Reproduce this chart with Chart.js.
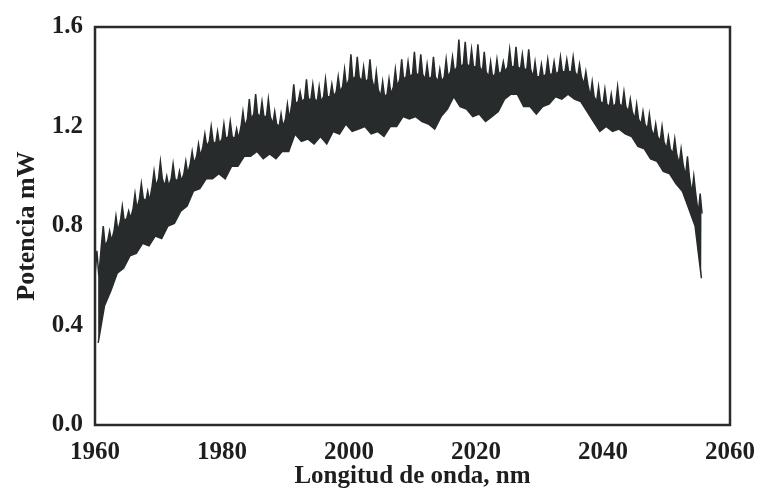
<!DOCTYPE html>
<html>
<head>
<meta charset="utf-8">
<script src="https://cdn.jsdelivr.net/npm/chart.js@4/dist/chart.umd.min.js"></script>
<style>
  html, body { margin: 0; padding: 0; background: #fff; }
  #wrap { width: 768px; height: 488px; }
</style>
</head>
<body>
<div id="wrap"><canvas id="chart"></canvas></div>
<script>
// wavelength grid (nm), one sample per fringe
const wavelengths = [
  1960, 1961, 1962, 1963, 1964, 1965, 1966, 1967, 1968, 1969,
  1970, 1971, 1972, 1973, 1974, 1975, 1976, 1977, 1978, 1979,
  1980, 1981, 1982, 1983, 1984, 1985, 1986, 1987, 1988, 1989,
  1990, 1991, 1992, 1993, 1994, 1995, 1996, 1997, 1998, 1999,
  2000, 2001, 2002, 2003, 2004, 2005, 2006, 2007, 2008, 2009,
  2010, 2011, 2012, 2013, 2014, 2015, 2016, 2017, 2018, 2019,
  2020, 2021, 2022, 2023, 2024, 2025, 2026, 2027, 2028, 2029,
  2030, 2031, 2032, 2033, 2034, 2035, 2036, 2037, 2038, 2039,
  2040, 2041, 2042, 2043, 2044, 2045, 2046, 2047, 2048, 2049,
  2050, 2051, 2052, 2053, 2054, 2055
];

// spike tips (mW)
const peakPower = [
  0.70, 0.80, 0.78, 0.84, 0.88, 0.86, 0.93, 0.97, 0.94, 1.02,
  1.06, 1.00, 1.05, 1.02, 1.06, 1.10, 1.13, 1.17, 1.20, 1.18,
  1.21, 1.22, 1.19, 1.26, 1.31, 1.33, 1.30, 1.31, 1.26, 1.25,
  1.29, 1.37, 1.34, 1.39, 1.37, 1.36, 1.39, 1.37, 1.40, 1.43,
  1.49, 1.48, 1.44, 1.47, 1.42, 1.38, 1.39, 1.43, 1.47, 1.46,
  1.50, 1.49, 1.45, 1.48, 1.43, 1.47, 1.48, 1.55, 1.54, 1.51,
  1.53, 1.50, 1.46, 1.47, 1.46, 1.51, 1.52, 1.49, 1.51, 1.46,
  1.45, 1.47, 1.46, 1.48, 1.47, 1.48, 1.45, 1.42, 1.38, 1.36,
  1.35, 1.33, 1.36, 1.34, 1.31, 1.29, 1.26, 1.25, 1.21, 1.20,
  1.16, 1.15, 1.11, 1.08, 1.00, 0.93
];

// top of the solid band (mW)
const ridgePower = [
  0.60, 0.72, 0.74, 0.78, 0.82, 0.83, 0.87, 0.91, 0.90, 0.96,
  0.99, 0.96, 0.99, 0.98, 1.01, 1.05, 1.08, 1.12, 1.14, 1.13,
  1.15, 1.16, 1.15, 1.20, 1.23, 1.25, 1.24, 1.24, 1.21, 1.20,
  1.23, 1.29, 1.30, 1.31, 1.31, 1.30, 1.32, 1.32, 1.34, 1.36,
  1.39, 1.40, 1.38, 1.39, 1.35, 1.32, 1.33, 1.36, 1.39, 1.40,
  1.41, 1.41, 1.39, 1.40, 1.38, 1.40, 1.42, 1.44, 1.45, 1.44,
  1.44, 1.42, 1.40, 1.41, 1.42, 1.44, 1.44, 1.43, 1.43, 1.40,
  1.40, 1.41, 1.41, 1.42, 1.42, 1.42, 1.40, 1.37, 1.32, 1.30,
  1.29, 1.28, 1.29, 1.28, 1.26, 1.23, 1.21, 1.19, 1.16, 1.14,
  1.11, 1.09, 1.05, 1.00, 0.93, 0.85
];

// fringe minima (mW)
const troughPower = [
  0.33, 0.48, 0.54, 0.61, 0.63, 0.68, 0.69, 0.73, 0.72, 0.76,
  0.75, 0.80, 0.81, 0.86, 0.88, 0.94, 0.95, 0.99, 0.99, 1.01,
  0.99, 1.04, 1.04, 1.08, 1.08, 1.10, 1.07, 1.09, 1.07, 1.10,
  1.10, 1.17, 1.14, 1.15, 1.13, 1.16, 1.13, 1.18, 1.17, 1.21,
  1.18, 1.19, 1.20, 1.17, 1.18, 1.16, 1.20, 1.20, 1.24, 1.23,
  1.24, 1.22, 1.21, 1.19, 1.24, 1.27, 1.32, 1.28, 1.27, 1.24,
  1.25, 1.22, 1.24, 1.26, 1.31, 1.33, 1.33, 1.28, 1.28, 1.25,
  1.28, 1.29, 1.32, 1.31, 1.33, 1.31, 1.30, 1.26, 1.22, 1.18,
  1.20, 1.18, 1.19, 1.17, 1.16, 1.12, 1.11, 1.07, 1.06, 1.02,
  1.01, 0.97, 0.94, 0.87, 0.80, 0.59
];

const xTicks = [1960, 1980, 2000, 2020, 2040, 2060];
const yTicks = [0.0, 0.4, 0.8, 1.2, 1.6];

const ink = '#272b2b';
const serif = '"Liberation Serif", "DejaVu Serif", serif';

// upper edge: one spike on top of the band in every fringe
const upper = [];
const lower = [];
wavelengths.forEach((w, i) => {
  upper.push({ x: w, y: ridgePower[i] });
  upper.push({ x: w + 0.3, y: peakPower[i] });
  upper.push({ x: w + 0.6, y: ridgePower[i] });
  lower.push({ x: w + 0.5, y: troughPower[i] });
});

// box around the plot area
const frame = {
  id: 'frame',
  afterDatasetsDraw(chart) {
    const { ctx, chartArea: a } = chart;
    ctx.save();
    ctx.strokeStyle = '#2b2b2b';
    ctx.lineWidth = 2.5;
    ctx.strokeRect(a.left, a.top, a.right - a.left, a.bottom - a.top);
    ctx.restore();
  }
};

new Chart(document.getElementById('chart'), {
  type: 'scatter',
  data: {
    datasets: [
      {
        label: 'minimos',
        data: lower,
        showLine: true,
        borderColor: ink,
        borderWidth: 1.5,
        pointRadius: 0,
        tension: 0,
        fill: false
      },
      {
        label: 'Potencia',
        data: upper,
        showLine: true,
        borderColor: ink,
        backgroundColor: ink,
        borderWidth: 1.5,
        pointRadius: 0,
        tension: 0,
        fill: '-1'
      }
    ]
  },
  options: {
    responsive: true,
    maintainAspectRatio: false,
    animation: false,
    layout: { padding: { top: 16, right: 25, left: 0, bottom: 0 } },
    plugins: { legend: { display: false }, tooltip: { enabled: false } },
    scales: {
      x: {
        type: 'linear',
        min: 1960,
        max: 2060,
        afterBuildTicks: (s) => { s.ticks = xTicks.map(v => ({ value: v })); },
        afterFit: (s) => { s.height = 63; },
        grid: { display: false, drawTicks: false },
        border: { display: false },
        ticks: {
          color: '#1e1e1e',
          padding: 13,
          maxRotation: 0,
          font: { family: serif, size: 25, weight: 'bold' },
          callback: (v) => String(v)
        },
        title: {
          display: true,
          text: 'Longitud de onda, nm',
          color: '#1e1e1e',
          padding: { top: 0, bottom: -4 },
          font: { family: serif, size: 25, weight: 'bold' }
        }
      },
      y: {
        min: 0,
        max: 1.6,
        afterBuildTicks: (s) => { s.ticks = yTicks.map(v => ({ value: v })); },
        afterFit: (s) => { s.width = 95; },
        grid: { display: false, drawTicks: false },
        border: { display: false },
        ticks: {
          color: '#1e1e1e',
          padding: 12,
          font: { family: serif, size: 25, weight: 'bold' },
          callback: (v) => v.toFixed(1)
        },
        title: {
          display: true,
          text: 'Potencia mW',
          color: '#1e1e1e',
          padding: { top: 12, bottom: 0 },
          font: { family: serif, size: 26, weight: 'bold' }
        }
      }
    }
  },
  plugins: [frame]
});
</script>
</body>
</html>
